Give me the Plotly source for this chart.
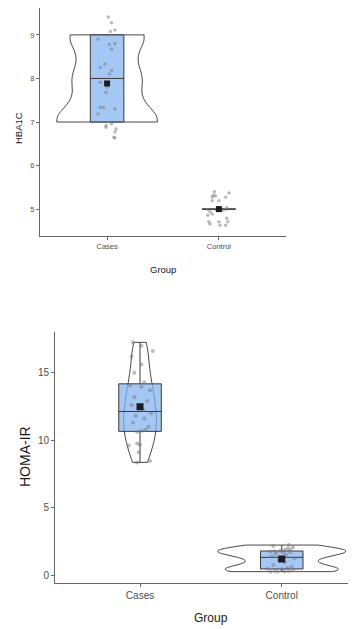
import numpy as np
import plotly.graph_objects as go

groups = ["Cases", "Control"]

# HBA1C (top panel) - recorded values
hba1c_cases = [9, 9, 9, 9, 9, 9, 9, 9,
               8, 8, 8, 8, 8, 8, 8,
               7, 7, 7, 7, 7, 7, 7, 7, 7, 7, 7]
hba1c_control = [5] * 23
# jittered point positions as displayed
hba1c_cases_pts = [9.41, 9.28, 9.11, 9.08, 8.9, 8.8, 8.78, 8.67, 8.33, 8.25, 8.18, 8.1, 7.91,
                   7.8, 7.68, 7.34, 7.33, 7.3, 7.19, 6.96, 6.92, 6.88, 6.84, 6.77, 6.65, 6.63]
hba1c_cases_dx = [0.01, 0.04, 0.07, 0.03, -0.08, 0.07, 0.02, 0.04, -0.02, -0.06, 0.04, 0.02, -0.06,
                  0.0, -0.01, -0.06, -0.03, 0.07, -0.08, 0.04, -0.01, -0.01, 0.08, 0.07, 0.06, 0.07]
hba1c_control_pts = [5.40, 5.32, 5.28, 5.30, 5.19, 5.19, 5.37, 5.27, 4.99, 4.94, 4.89, 4.86,
                     4.99, 5.03, 4.71, 4.66, 4.71, 4.63, 4.79, 4.71, 4.63, 4.99, 4.97]
hba1c_control_dx = [-0.04, -0.05, -0.06, -0.03, -0.06, 0.0, 0.09, 0.06, -0.1, -0.08, -0.06, -0.1,
                    0.06, 0.07, -0.09, -0.08, 0.0, 0.01, 0.07, 0.08, 0.06, -0.03, 0.03]

# HOMA-IR (bottom panel)
homa_cases = [8.35, 8.45, 9.1, 9.6, 9.65, 9.75, 10.6, 10.7, 10.75, 11.0, 11.3, 11.6, 11.8, 12.0,
              12.25, 12.6, 12.9, 13.2, 13.7, 13.95, 14.05, 14.3, 15.0, 15.6, 16.2, 16.6, 17.0, 17.25]
homa_cases_dx = [-0.02, 0.07, -0.01, -0.08, 0.0, -0.02, -0.02, 0.01, 0.04, 0.06, -0.05, 0.03, -0.03, 0.08,
                 0.02, -0.06, 0.05, -0.04, 0.07, 0.01, -0.07, 0.03, -0.04, 0.01, -0.06, 0.09, 0.01, -0.05]
homa_control = [0.25, 0.26, 0.28, 0.3, 0.32, 0.35, 0.43, 0.47, 0.52, 0.6, 0.75, 0.95, 1.1, 1.25,
                1.37, 1.5, 1.6, 1.66, 1.7, 1.74, 1.76, 1.8, 1.85, 1.9, 1.95, 2.05, 2.15, 2.22]
homa_control_dx = [-0.08, -0.03, 0.02, 0.05, -0.05, 0.08, 0.0, -0.1, 0.04, 0.07, -0.06, 0.02, -0.02, 0.09,
                   -0.07, 0.03, -0.04, 0.06, 0.01, -0.08, -0.05, -0.01, 0.02, 0.06, 0.04, 0.08, -0.06, 0.05]

FONT = "Liberation Sans Narrow, Liberation Sans, Arial, sans-serif"
# page body has an 8px default margin; the figure is sized to fill the rest of the window
OFF = 8
W, H = 356 - OFF, 629 - OFF
BOX_FILL = "rgba(130,178,240,0.72)"
BOX_LINE = "#3a3a3a"
VIO_LINE = "#333333"
PT_COL = "rgba(120,120,120,0.5)"
AX_COL = "#666666"


def fx(px):
    return (px - OFF) / W


def fy(py):
    return 1 - (py - OFF) / H


def nrd0(v):
    v = np.asarray(v, dtype=float)
    sd = v.std(ddof=1)
    q1, q3 = np.percentile(v, [25, 75])
    lo = min(sd, (q3 - q1) / 1.34)
    if lo == 0:
        lo = sd if sd > 0 else abs(v[0])
    return 0.9 * lo * len(v) ** -0.2


# (index, data, points, offsets, xaxis, yaxis, scalegroup, draw violin, mean size, point size)
panels = [
    (0, hba1c_cases, hba1c_cases_pts, hba1c_cases_dx, "x", "y", "top", True, 6, 3.5),
    (1, hba1c_control, hba1c_control_pts, hba1c_control_dx, "x", "y", "top", False, 6, 3.5),
    (0, homa_cases, homa_cases, homa_cases_dx, "x2", "y2", "bot", True, 7, 4),
    (1, homa_control, homa_control, homa_control_dx, "x2", "y2", "bot", True, 7, 4),
]

fig = go.Figure()

# layer 1: violins
for idx, data, pts, dx, xa, ya, sg, vio, ms, ps in panels:
    if vio:
        fig.add_trace(go.Violin(
            x=[idx] * len(data), y=data, spanmode="hard",
            bandwidth=nrd0(data), scalegroup=sg, scalemode="width",
            fillcolor="white", line=dict(color=VIO_LINE, width=0.9),
            points=False, box_visible=False, meanline_visible=False,
            xaxis=xa, yaxis=ya, hoverinfo="skip"))
# layer 2: boxes
for idx, data, pts, dx, xa, ya, sg, vio, ms, ps in panels:
    fig.add_trace(go.Box(
        x=[idx] * len(data), y=data, width=0.3, fillcolor=BOX_FILL,
        line=dict(color=BOX_LINE, width=1), whiskerwidth=0, boxpoints=False,
        xaxis=xa, yaxis=ya, hoverinfo="skip"))
# layer 3: jittered points
for idx, data, pts, dx, xa, ya, sg, vio, ms, ps in panels:
    fig.add_trace(go.Scatter(
        x=[idx + d for d in dx], y=pts, mode="markers",
        marker=dict(color=PT_COL, size=ps), xaxis=xa, yaxis=ya, hoverinfo="skip"))
# layer 4: means
for idx, data, pts, dx, xa, ya, sg, vio, ms, ps in panels:
    fig.add_trace(go.Scatter(
        x=[idx], y=[float(np.mean(data))], mode="markers",
        marker=dict(symbol="square", color="#1c1c1c", size=ms),
        xaxis=xa, yaxis=ya, hoverinfo="skip"))


def ax(size, **kw):
    d = dict(showline=True, linecolor=AX_COL, linewidth=1, ticks="outside",
             ticklen=3, tickwidth=1, tickcolor=AX_COL, showgrid=False,
             zeroline=False, automargin=False,
             tickfont=dict(family=FONT, color="#4d4d4d", size=size))
    d.update(kw)
    return d


def title(text, px, py, size, angle=0):
    return dict(text=text, x=fx(px), y=fy(py), xref="paper", yref="paper",
                xanchor="center", yanchor="middle", showarrow=False, textangle=angle,
                font=dict(family=FONT, size=size, color="#1a1a1a"))


fig.update_layout(
    width=W, height=H, margin=dict(l=0, r=0, t=0, b=0),
    paper_bgcolor="white", plot_bgcolor="white", showlegend=False,
    violinmode="overlay", boxmode="overlay", violingap=0.1, violingroupgap=0,
    xaxis=ax(7.5, domain=[fx(40), fx(286)], range=[-0.6, 1.6], anchor="y",
             tickvals=[0, 1], ticktext=groups),
    yaxis=ax(7.5, domain=[fy(236), min(1.0, fy(7))], range=[4.383, 9.617], anchor="x",
             tickvals=[5, 6, 7, 8, 9]),
    xaxis2=ax(10, domain=[fx(55), 1.0], range=[-0.6, 1.524], anchor="y2",
              tickvals=[0, 1], ticktext=groups),
    yaxis2=ax(10, domain=[fy(583.3), fy(331.7)], range=[-0.615, 18.04], anchor="x2",
              tickvals=[0, 5, 10, 15]),
    annotations=[
        title("Group", 163, 269, 9.5),
        title("HBA1C", 19, 128, 9.5, -90),
        title("Group", 210.7, 618, 12),
        title("HOMA-IR", 25, 457, 14, -90),
    ],
)

fig.write_html("out.html")
